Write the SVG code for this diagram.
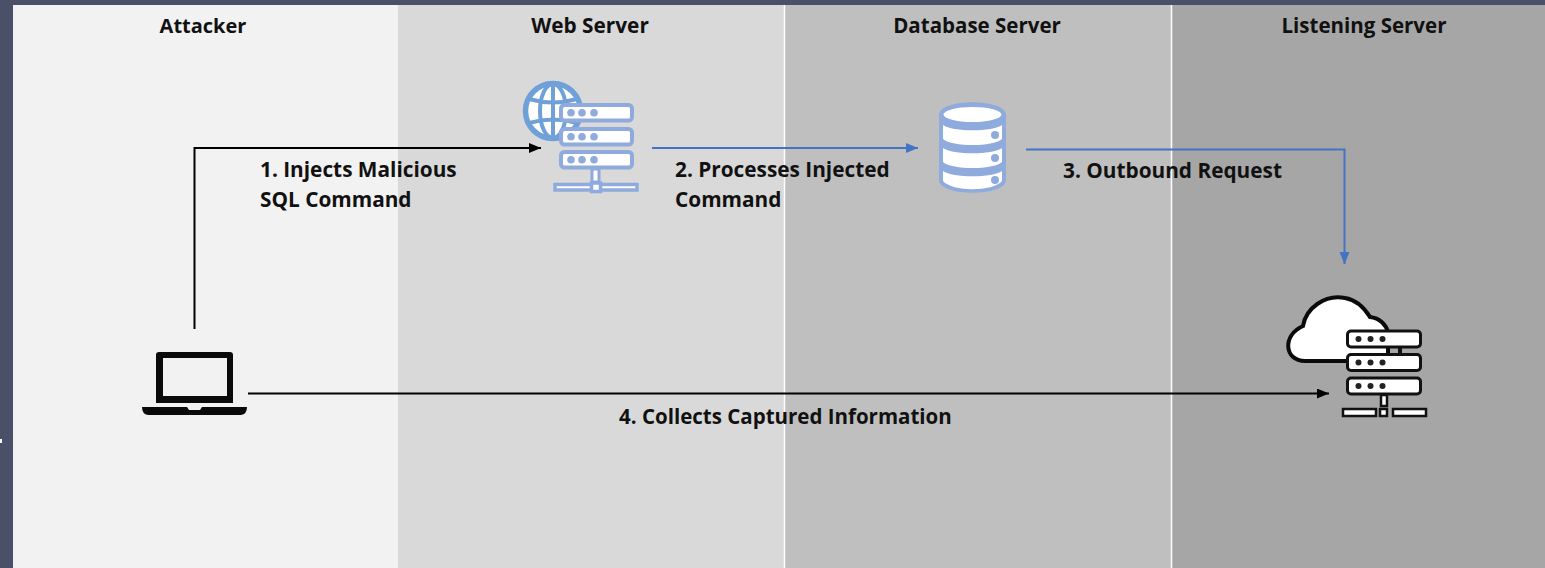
<svg xmlns="http://www.w3.org/2000/svg" width="1545" height="568" viewBox="0 0 1545 568">
<defs>
<marker id="ak" markerWidth="14" markerHeight="12" refX="12" refY="5" orient="auto" markerUnits="userSpaceOnUse"><path d="M0 0L12 5L0 10z" fill="#000"/></marker>
<marker id="ab" markerWidth="14" markerHeight="12" refX="12" refY="5" orient="auto" markerUnits="userSpaceOnUse"><path d="M0 0L12 5L0 10z" fill="#4472C4"/></marker>
<g id="rack-b"><rect x="0" y="0" width="71" height="15.500" rx="3.500" fill="#fff" stroke="#8FAADC" stroke-width="4"/><circle cx="10" cy="7.750" r="3.800" fill="#8FAADC"/><circle cx="21" cy="7.750" r="3.800" fill="#8FAADC"/><circle cx="33" cy="7.750" r="3.800" fill="#8FAADC"/></g>
<g id="rack-k"><rect x="0" y="0" width="73" height="16" rx="3.500" fill="#fff" stroke="#111" stroke-width="3"/><circle cx="11" cy="8" r="3" fill="#222"/><circle cx="23" cy="8" r="3" fill="#222"/><circle cx="35" cy="8" r="3" fill="#222"/></g>
</defs>
<style>
text{font-family:"Open Sans","Liberation Sans",sans-serif;font-weight:700;font-size:20.800px;fill:#111}
.c{text-anchor:middle}
.s{font-size:20px}
.m{font-size:20.500px}
.l{fill:none;stroke-width:2}
.k{stroke:#000}
.b{stroke:#4472C4}
</style>
<rect width="1545" height="568" fill="#4A5068"/>
<rect id="mark" x="0" y="439" width="2" height="4" fill="#fff"/>
<g id="lanes">
<rect x="13" y="5" width="385" height="563" fill="#F2F2F2"/>
<rect x="398" y="5" width="386" height="563" fill="#D9D9D9"/>
<rect x="784" y="5" width="387" height="563" fill="#BFBFBF"/>
<rect x="1171" y="5" width="374" height="563" fill="#A6A6A6"/>
<path d="M784.500 5V568M1171.500 5V568" stroke="#fff" stroke-width="1.500"/>
</g>
<g id="headers">
<text class="c s" x="203" y="33">Attacker</text>
<text class="c" x="590" y="33">Web Server</text>
<text class="c m" x="977" y="33">Database Server</text>
<text class="c m" x="1364" y="33">Listening Server</text>
</g>
<g id="connectors">
<path class="l k" marker-end="url(#ak)" d="M194.500 329V148H541"/>
<path class="l b" marker-end="url(#ab)" d="M652 148H918"/>
<path class="l b" marker-end="url(#ab)" d="M1026 149.500H1344.500V264"/>
<path class="l k" marker-end="url(#ak)" d="M248 393.500H1329"/>
</g>
<g id="labels">
<text x="260" y="177">1. Injects Malicious</text>
<text x="260" y="207">SQL Command</text>
<text x="675" y="177">2. Processes Injected</text>
<text x="675" y="207">Command</text>
<text x="1063" y="178">3. Outbound Request</text>
<text class="m" x="619" y="424">4. Collects Captured Information</text>
</g>
<g id="attacker">
<path fill-rule="evenodd" d="M159 352H230Q233 352 233 355V403H156V355Q156 352 159 352ZM163 358V396H227V358Z" fill="#0a0a0a"/>
<path d="M142 407H187L189 410H200L202 407H247Q247 414 241 415H148Q142 414 142 407Z" fill="#0a0a0a"/>
</g>
<g id="web-server">
<circle cx="553" cy="111" r="27.500" fill="#fff" stroke="#6FA0D8" stroke-width="5.500"/>
<g fill="none" stroke="#6FA0D8" stroke-width="4">
<ellipse cx="553" cy="111" rx="13" ry="27"/>
<path d="M553 84V138M529 99Q553 106 577 99M529 123Q553 116 577 123"/>
</g>
<use href="#rack-b" x="561" y="105"/>
<use href="#rack-b" x="561" y="129"/>
<use href="#rack-b" x="561" y="152"/>
<rect x="592" y="169" width="7" height="13" fill="#fff" stroke="#8FAADC" stroke-width="3"/>
<rect x="555" y="184.500" width="82" height="5.500" fill="#fff" stroke="#8FAADC" stroke-width="3.500"/>
<rect x="591.500" y="183" width="9" height="8.500" fill="#fff" stroke="#8FAADC" stroke-width="3.500"/>
</g>
<g id="database-server">
<path d="M939 115C939 98 1006 98 1006 115V180C1006 197 939 197 939 180Z" fill="#8FAADC"/>
<ellipse cx="972.500" cy="114.500" rx="29" ry="7.500" fill="#fff"/>
<path d="M943 125C952 132 993 132 1002 125V139C993 147 952 147 943 139Z" fill="#fff"/>
<path d="M943 148C952 155 993 155 1002 148V162C993 170 952 170 943 162Z" fill="#fff"/>
<path d="M943 171C952 178 993 178 1002 171V181C993 192 952 192 943 181Z" fill="#fff"/>
<circle cx="995" cy="135" r="4" fill="#8FAADC"/><circle cx="995" cy="158" r="4" fill="#8FAADC"/><circle cx="995" cy="180" r="4" fill="#8FAADC"/>
</g>
<g id="listening-server">
<path d="M1305 361C1284 361 1282 335 1303 326C1306 308 1325 294 1345 298C1358 300 1365 309 1370 317C1380 318 1386 325 1388 332V361Z" fill="#fff" stroke="#0a0a0a" stroke-width="4"/>
<rect x="1398" y="347" width="4" height="7" fill="#111"/>
<use href="#rack-k" x="1347.500" y="331"/>
<use href="#rack-k" x="1347.500" y="354.500"/>
<use href="#rack-k" x="1347.500" y="378"/>
<rect x="1381" y="395" width="6" height="11" fill="#fff" stroke="#111" stroke-width="2.500"/>
<rect x="1343" y="409" width="33" height="7" fill="#fff" stroke="#111" stroke-width="2.500"/>
<rect x="1380" y="409" width="7" height="7" fill="#fff" stroke="#111" stroke-width="2.500"/>
<rect x="1393" y="409" width="33" height="7" fill="#fff" stroke="#111" stroke-width="2.500"/>
</g>
</svg>
